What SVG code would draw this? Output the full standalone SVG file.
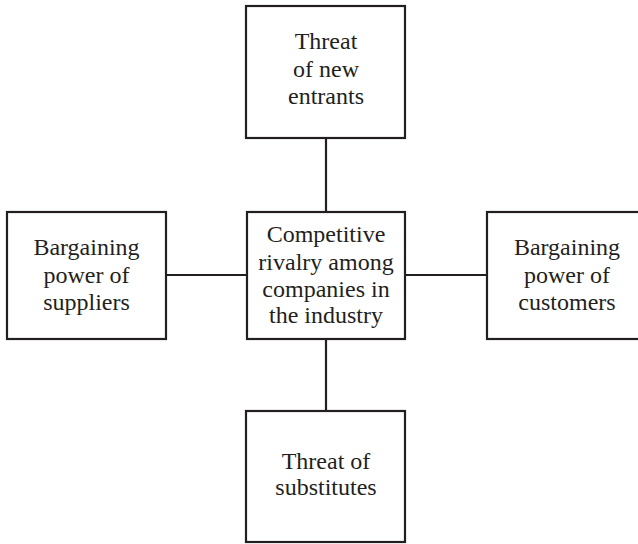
<svg xmlns="http://www.w3.org/2000/svg" width="638" height="544" viewBox="0 0 638 544">
<style>
.box{fill:#fff;stroke:#231f20;stroke-width:2.2}
.ln{stroke:#231f20;stroke-width:2.2;fill:none}
text{font-family:"Liberation Serif","Times New Roman",serif;font-size:24px;fill:#231f20;text-anchor:middle}
</style>
<rect width="638" height="544" fill="#fff"/>
<g id="connectors">
<line class="ln" x1="326" y1="138" x2="326" y2="212"/>
<line class="ln" x1="326" y1="339" x2="326" y2="411"/>
<line class="ln" x1="166" y1="275" x2="247" y2="275"/>
<line class="ln" x1="405" y1="275" x2="487" y2="275"/>
</g>
<g id="new-entrants">
<rect class="box" x="246" y="6" width="159" height="132"/>
<text x="326" y="49">Threat</text>
<text x="326" y="77">of new</text>
<text x="326" y="104">entrants</text>
</g>
<g id="suppliers">
<rect class="box" x="7" y="212" width="159" height="127"/>
<text x="86.5" y="255">Bargaining</text>
<text x="86.5" y="283">power of</text>
<text x="86.5" y="310">suppliers</text>
</g>
<g id="rivalry">
<rect class="box" x="247" y="212" width="158" height="127"/>
<text x="326" y="242">Competitive</text>
<text x="326" y="270">rivalry among</text>
<text x="326" y="297">companies in</text>
<text x="326" y="323">the industry</text>
</g>
<g id="customers">
<rect class="box" x="487" y="212" width="159" height="127"/>
<text x="567" y="255">Bargaining</text>
<text x="567" y="283">power of</text>
<text x="567" y="310">customers</text>
</g>
<g id="substitutes">
<rect class="box" x="246" y="411" width="159" height="131"/>
<text x="326" y="469">Threat of</text>
<text x="326" y="495">substitutes</text>
</g>
</svg>
